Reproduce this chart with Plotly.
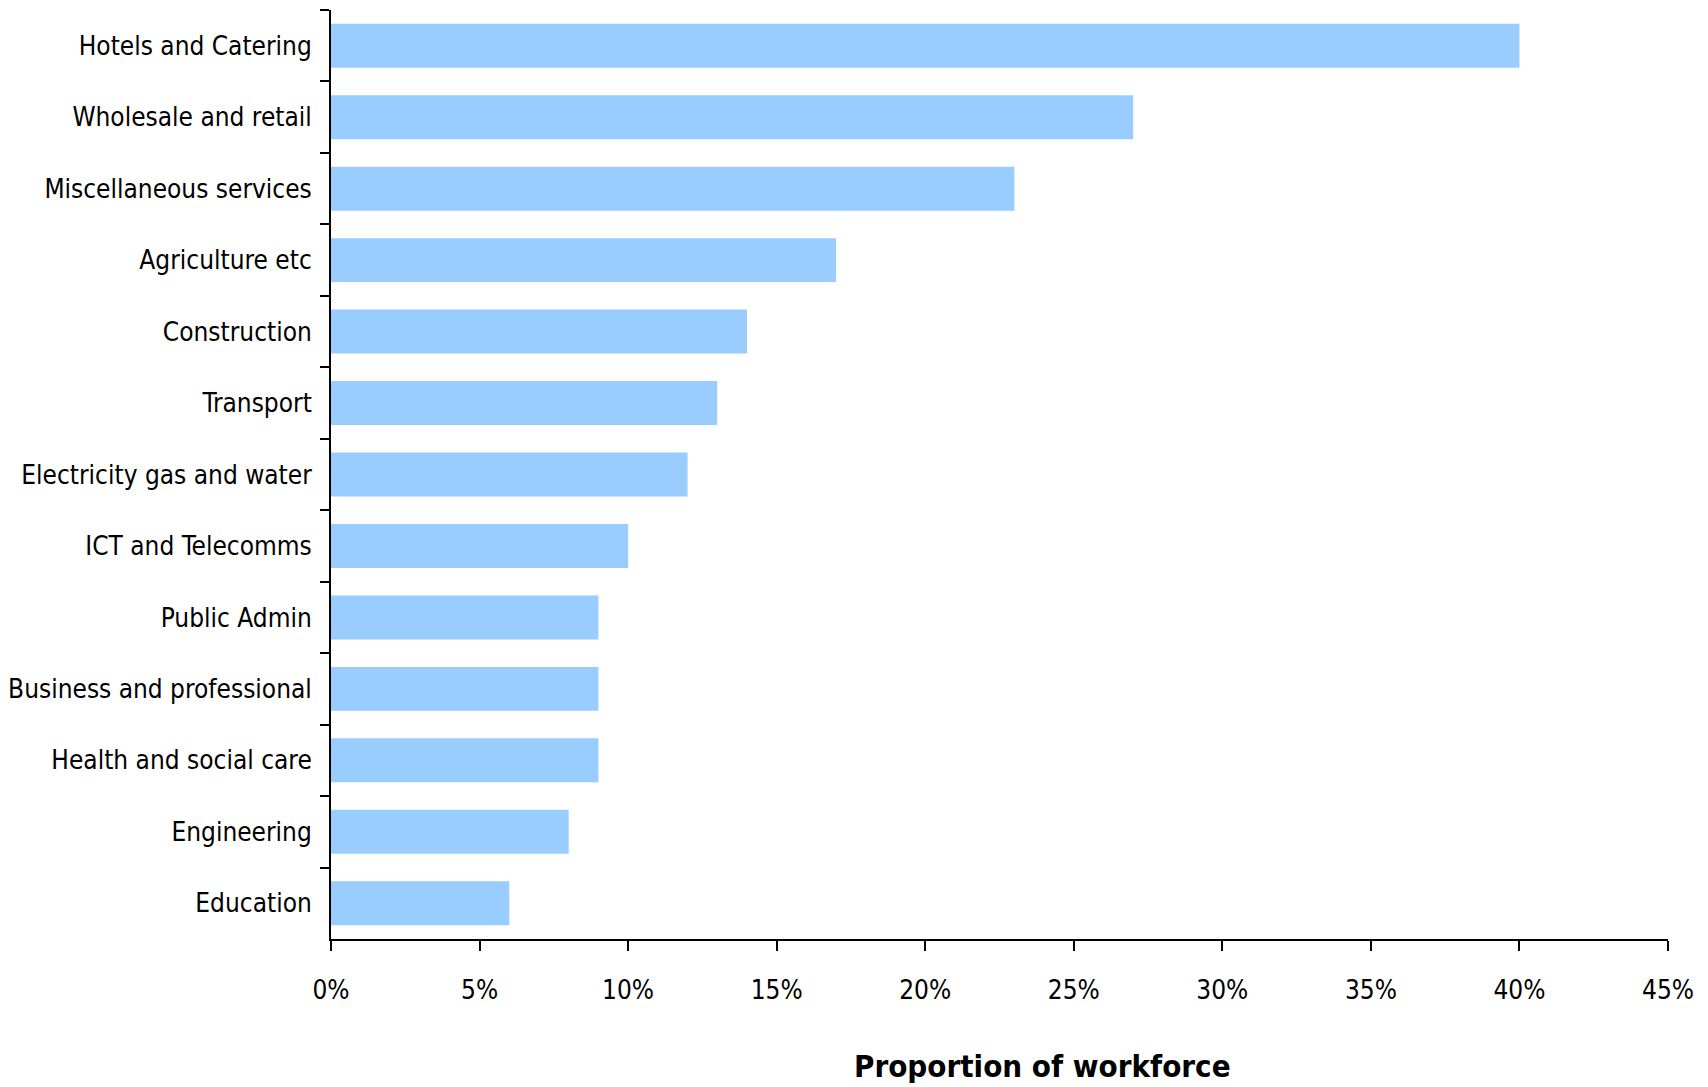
import plotly.graph_objects as go

categories = ["Hotels and Catering", "Wholesale and retail", "Miscellaneous services",
              "Agriculture etc", "Construction", "Transport", "Electricity gas and water",
              "ICT and Telecomms", "Public Admin", "Business and professional",
              "Health and social care", "Engineering", "Education"]
values = [40, 27, 23, 17, 14, 13, 12, 10, 9, 9, 9, 8, 6]
x_tick_vals = [0, 5, 10, 15, 20, 25, 30, 35, 40, 45]
x_tick_text = ["0%", "5%", "10%", "15%", "20%", "25%", "30%", "35%", "40%", "45%"]
x_title = "Proportion of workforce"

FONT = "DejaVu Sans Condensed"

fig = go.Figure(go.Bar(
    x=values, y=categories, orientation="h",
    marker=dict(color="#99CCFF", line=dict(width=0)),
    hoverinfo="x+y",
))

fig.update_layout(
    width=1708, height=1087,
    margin=dict(l=323, r=48, t=2, b=156),
    paper_bgcolor="white", plot_bgcolor="white",
    bargap=0.385,
    showlegend=False,
    font=dict(family=FONT, color="black"),
    xaxis=dict(
        range=[0, 45], tickvals=x_tick_vals, ticktext=x_tick_text,
        showgrid=False, zeroline=False, automargin=False,
        showline=True, linecolor="black", linewidth=2,
        ticks="outside", ticklen=10, tickwidth=2, tickcolor="black",
        ticklabelstandoff=17,
        tickfont=dict(family=FONT, size=26, color="black"),
    ),
    yaxis=dict(
        categoryorder="array", categoryarray=categories,
        autorange="reversed", automargin=False,
        showgrid=False, zeroline=False,
        showline=True, linecolor="black", linewidth=2,
        ticks="outside", ticklen=9, tickwidth=2, tickcolor="black",
        tickson="boundaries",
        ticklabelstandoff=12,
        tickfont=dict(family=FONT, size=26, color="black"),
    ),
    annotations=[dict(
        text="<b>" + x_title + "</b>", xref="paper", yref="paper",
        x=0.532, y=-0.137, xanchor="center", yanchor="middle",
        showarrow=False, font=dict(family=FONT, size=31, color="black"),
    )],
)

fig.write_html("out.html")
